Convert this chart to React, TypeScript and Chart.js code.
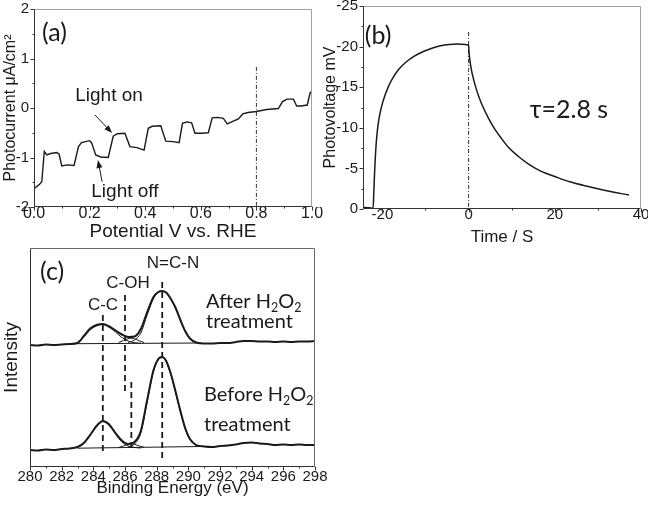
import { useEffect, useRef } from "react";
import { Chart, registerables } from "chart.js";
Chart.register(...registerables);

const ARIAL = "'Liberation Sans', Arial, sans-serif";
const CALIBRI = "Lato, 'Open Sans', sans-serif";
const INK = "#1a1a1a";

// ---------------- Panel (a): photocurrent vs potential ----------------
const potentialV = [0, 0.02, 0.028, 0.037, 0.046, 0.06, 0.082, 0.09, 0.1, 0.12, 0.144, 0.16, 0.171, 0.2, 0.207, 0.222, 0.24, 0.267, 0.285, 0.3, 0.327, 0.345, 0.37, 0.396, 0.411, 0.425, 0.456, 0.474, 0.5, 0.522, 0.534, 0.55, 0.567, 0.579, 0.6, 0.627, 0.641, 0.66, 0.681, 0.695, 0.715, 0.735, 0.751, 0.77, 0.8, 0.837, 0.879, 0.894, 0.91, 0.933, 0.945, 0.96, 0.983, 0.993, 1.0];
const photocurrent = [-1.63, -1.54, -1.49, -0.88, -0.95, -0.92, -0.9, -0.93, -1.17, -1.15, -1.16, -0.78, -0.7, -0.66, -0.7, -0.95, -0.99, -1.0, -0.57, -0.52, -0.51, -0.78, -0.8, -0.85, -0.41, -0.37, -0.36, -0.67, -0.68, -0.7, -0.31, -0.28, -0.3, -0.51, -0.51, -0.5, -0.2, -0.19, -0.21, -0.32, -0.27, -0.22, -0.12, -0.09, -0.07, -0.03, -0.01, 0.13, 0.18, 0.18, 0.04, 0.04, 0.06, 0.3, 0.35];
const aMarkerX = 0.8;
const aMarkerY = [0.83, -2];
const aXTicks = [0, 0.2, 0.4, 0.6, 0.8, 1.0];
const aXMinor = [0.1, 0.3, 0.5, 0.7, 0.9];
const aYTicks = [-2, -1, 0, 1, 2];
const aYMinor = [-1.5, -0.5, 0.5, 1.5];

// ---------------- Panel (b): photovoltage transient ----------------
const timeS = [-24.5, -23, -22.3, -22.15, -22.0, -21.8, -21.5, -21.2, -20.8, -20.2, -19.4, -18.5, -17.5, -16.2, -14.5, -12.5, -10.5, -8.5, -6.5, -4.5, -2.5, -0.8, -0.1, 0, 0.1, 0.3, 0.6, 1.0, 1.6, 2.4, 3.4, 4.6, 6.0, 7.6, 9.4, 11.5, 14, 17, 20, 23.5, 27.5, 32, 37.2];
const photovoltage = [-0.2, -0.15, -0.1, -0.1, -2.0, -4.6, -7.6, -9.5, -11.1, -12.6, -14.0, -15.2, -16.2, -17.2, -18.1, -18.85, -19.4, -19.8, -20.1, -20.27, -20.32, -20.27, -20.2, -20.15, -19.3, -18.3, -17.3, -16.3, -15.1, -13.8, -12.5, -11.2, -9.9, -8.7, -7.5, -6.5, -5.5, -4.6, -4.0, -3.35, -2.8, -2.25, -1.72];
const bMarkerX = 0;
const bMarkerY = [-21.8, 0];
const bXTicks = [-20, 0, 20, 40];
const bXMinor = [-10, 10, 30];
const bYTicks = [-25, -20, -15, -10, -5, 0];
const bYMinor = [-22.5, -17.5, -12.5, -7.5, -2.5];

// ---------------- Panel (c): C1s XPS ----------------
const energyEV = [280, 280.5, 281, 281.5, 282, 282.5, 283, 283.4, 283.8, 284.2, 284.6, 285, 285.4, 285.8, 286.2, 286.6, 287, 287.4, 287.8, 288.1, 288.35, 288.6, 288.9, 289.2, 289.5, 289.8, 290.1, 290.5, 291, 291.5, 292, 292.5, 293, 293.5, 294, 294.5, 295, 295.5, 296, 296.5, 297, 297.5, 298];
const afterRaw = [122, 121.5, 122.5, 122, 122.5, 123, 124, 131, 138.5, 142, 143, 140.5, 136.5, 132.5, 130, 130.5, 138, 155, 170, 175, 176, 174.5, 168, 159, 147, 136, 128.5, 124.5, 123.5, 123.5, 124, 124, 125, 126, 126, 125.5, 125.5, 125, 125.5, 125, 125.5, 125.5, 126];
const beforeRaw = [17, 16.5, 17.5, 17, 18, 18.5, 20, 24, 32, 41, 46, 42.5, 34, 26.5, 23, 25, 36, 67, 97, 108, 110, 106, 93, 75, 56, 39, 28, 22, 20.5, 20, 21, 21.5, 22.5, 24, 24.5, 23.5, 23, 22, 22.5, 22, 22.5, 22, 22];
const ccEnergy = [283, 283.4, 283.8, 284.2, 284.6, 285, 285.4, 285.8, 286.2, 286.6, 287];
const afterCC = [125, 130, 137, 141, 142.5, 140, 135, 129.5, 126, 124.3, 123.8];
const beforeCC = [19.5, 23.5, 31.5, 40.5, 45.5, 41.5, 33, 25, 21, 19.5, 19];
const cohEnergy = [285.6, 285.9, 286.2, 286.4, 286.6, 286.9, 287.2];
const afterCOH = [124.5, 126.5, 128.3, 128.7, 128.2, 126.3, 124.5];
const beforeCOH = [19.5, 21, 22.8, 23.3, 22.8, 21, 19.7];
const ncnEnergy = [286.2, 286.6, 287, 287.4, 287.8, 288.1, 288.35, 288.6, 288.9, 289.2, 289.5, 289.8, 290.1, 290.5, 290.8];
const afterNCN = [124.5, 127, 134, 152, 168.5, 174.5, 175.5, 174, 167.5, 158.5, 146.5, 135.5, 128, 124.5, 123.8];
const beforeNCN = [20, 23, 34, 65, 95.5, 107, 109.5, 105.5, 92, 74, 55, 38, 27.5, 21.5, 20.5];
const baselineEnergy = [283, 290.8];
const afterBaseline = [123.3, 124];
const beforeBaseline = [18.8, 20.5];
const guideEnergy = [284.6, 286.0, 286.4, 288.35];
const guideTop = [152, 172, 85, 185];
const guideBottom = [12, 75, 17, 7];
const cXTicks = [280, 282, 284, 286, 288, 290, 292, 294, 296, 298];
const cXMinor = [281, 283, 285, 287, 289, 291, 293, 295, 297];

// ---------------- helpers ----------------
type Seg = { t: string; sub?: boolean };
type Txt = { segs: Seg[]; x: number; y: number; size: number; family: string; align: "left" | "center" };
type Arrow = { from: [number, number]; to: [number, number] };
type Deco = { xMajor: number[]; xMinor: number[]; yMajor: number[]; yMinor: number[]; texts: Txt[]; arrows?: Arrow[]; clip?: boolean; frame?: string };

const pts = (xs: number[], ys: number[]) => xs.map((x, i) => ({ x, y: ys[i] }));

function drawRich(ctx: CanvasRenderingContext2D, t: Txt, x: number, y: number) {
  const parts = t.segs.map((s) => {
    const size = s.sub ? t.size * 0.62 : t.size;
    const font = `${size}px ${t.family}`;
    ctx.font = font;
    return { ...s, font, w: ctx.measureText(s.t).width };
  });
  const total = parts.reduce((a, p) => a + p.w, 0);
  let cx = t.align === "center" ? x - total / 2 : x;
  ctx.textAlign = "left";
  ctx.textBaseline = "middle";
  for (const p of parts) {
    ctx.font = p.font;
    ctx.fillText(p.t, cx, y + (p.sub ? t.size * 0.3 : 0));
    cx += p.w;
  }
}

function decoPlugin(d: Deco) {
  return {
    id: "deco",
    afterDatasetsDraw(chart: any) {
      const { ctx, chartArea: a, scales } = chart;
      const xs = scales.x, ys = scales.y;
      const L = Math.round(a.left) + 0.5, R = Math.round(a.right) - 0.5;
      const T = Math.round(a.top) + 0.5, B = Math.round(a.bottom) - 0.5;
      ctx.save();
      ctx.lineWidth = 1;
      ctx.strokeStyle = d.frame || "#a0a0a0";
      ctx.beginPath();
      ctx.moveTo(L, T); ctx.lineTo(R, T); ctx.lineTo(R, B);
      ctx.stroke();
      ctx.strokeStyle = "#333";
      ctx.beginPath();
      ctx.moveTo(L, T); ctx.lineTo(L, B); ctx.lineTo(R, B);
      const tx = (v: number, len: number) => { const p = Math.round(xs.getPixelForValue(v)) + 0.5; ctx.moveTo(p, B); ctx.lineTo(p, B + len); };
      const ty = (v: number, len: number) => { const p = Math.round(ys.getPixelForValue(v)) + 0.5; ctx.moveTo(L, p); ctx.lineTo(L - len, p); };
      d.xMajor.forEach((v) => tx(v, 4));
      d.xMinor.forEach((v) => tx(v, 2));
      d.yMajor.forEach((v) => ty(v, 4));
      d.yMinor.forEach((v) => ty(v, 2));
      ctx.stroke();
      if (d.clip) {
        ctx.beginPath();
        ctx.rect(a.left, a.top, a.right - a.left, a.bottom - a.top);
        ctx.clip();
      }
      ctx.fillStyle = INK;
      for (const t of d.texts) drawRich(ctx, t, xs.getPixelForValue(t.x), ys.getPixelForValue(t.y));
      for (const ar of d.arrows || []) {
        const x1 = xs.getPixelForValue(ar.from[0]), y1 = ys.getPixelForValue(ar.from[1]);
        const x2 = xs.getPixelForValue(ar.to[0]), y2 = ys.getPixelForValue(ar.to[1]);
        const ang = Math.atan2(y2 - y1, x2 - x1);
        ctx.strokeStyle = INK;
        ctx.lineWidth = 1;
        ctx.beginPath();
        ctx.moveTo(x1, y1);
        ctx.lineTo(x2 - 5 * Math.cos(ang), y2 - 5 * Math.sin(ang));
        ctx.stroke();
        ctx.beginPath();
        ctx.moveTo(x2, y2);
        ctx.lineTo(x2 - 8 * Math.cos(ang) + 3 * Math.sin(ang), y2 - 8 * Math.sin(ang) - 3 * Math.cos(ang));
        ctx.lineTo(x2 - 8 * Math.cos(ang) - 3 * Math.sin(ang), y2 - 8 * Math.sin(ang) + 3 * Math.cos(ang));
        ctx.closePath();
        ctx.fill();
      }
      ctx.restore();
    },
  };
}

function axis(o: {
  min: number; max: number; ticks: number[]; fixed: number; horizontal: boolean; reverse?: boolean;
  label?: (v: number) => string; tickSize?: number; tickPad?: number; showTicks?: boolean;
  title: string; titleSize: number; titlePad: number;
}) {
  return {
    type: "linear",
    min: o.min,
    max: o.max,
    reverse: !!o.reverse,
    grid: { display: false, drawTicks: false, tickLength: 0 },
    border: { display: false },
    afterBuildTicks: (s: any) => { s.ticks = o.ticks.map((value) => ({ value })); },
    afterFit: (s: any) => {
      if (o.horizontal) s.height = o.fixed; else s.width = o.fixed;
      s.paddingLeft = 0; s.paddingRight = 0; s.paddingTop = 0; s.paddingBottom = 0;
    },
    ticks: {
      display: o.showTicks !== false,
      autoSkip: false,
      maxRotation: 0,
      padding: o.tickPad ?? 0,
      color: INK,
      font: { family: ARIAL, size: o.tickSize ?? 14, lineHeight: 1.2 },
      callback: (v: any) => (o.label ? o.label(Number(v)) : String(v)),
    },
    title: {
      display: true,
      text: o.title,
      color: INK,
      font: { family: ARIAL, size: o.titleSize, lineHeight: 1.2 },
      padding: o.horizontal ? { top: 0, bottom: o.titlePad } : { top: o.titlePad, bottom: 0 },
    },
  };
}

const baseOpts = (padding: any) => ({
  responsive: false,
  maintainAspectRatio: false,
  animation: false,
  events: [],
  layout: { padding },
  plugins: { legend: { display: false }, tooltip: { enabled: false } },
  elements: { point: { radius: 0 }, line: { fill: false } },
});

function configA() {
  return {
    type: "line",
    data: {
      datasets: [
        { data: pts(potentialV, photocurrent), borderColor: INK, borderWidth: 1.4, tension: 0 },
        { data: pts([aMarkerX, aMarkerX], aMarkerY), borderColor: "#333", borderWidth: 1, borderDash: [4, 2, 1, 2] },
      ],
    },
    options: {
      ...baseOpts({ top: 9, right: 12, left: 0, bottom: 0 }),
      scales: {
        x: axis({ min: 0, max: 1, ticks: aXTicks, fixed: 43, horizontal: true, label: (v) => v.toFixed(1), tickSize: 16, tickPad: -3, title: "Potential V vs. RHE", titleSize: 19, titlePad: 6.5 }),
        y: axis({ min: -2, max: 2, ticks: aYTicks, fixed: 34, horizontal: false, tickSize: 15, tickPad: 5, title: "Photocurrent μA/cm²", titleSize: 16, titlePad: 0.5 }),
      },
    },
    plugins: [decoPlugin({
      xMajor: aXTicks, xMinor: aXMinor, yMajor: aYTicks, yMinor: aYMinor,
      texts: [
        { segs: [{ t: "(a)" }], x: 0.029, y: 1.52, size: 25, family: CALIBRI, align: "left" },
        { segs: [{ t: "Light on" }], x: 0.27, y: 0.25, size: 19, family: ARIAL, align: "center" },
        { segs: [{ t: "Light off" }], x: 0.327, y: -1.7, size: 19, family: ARIAL, align: "center" },
      ],
      arrows: [
        { from: [0.219, -0.14], to: [0.281, -0.505] },
        { from: [0.245, -1.49], to: [0.23, -1.05] },
      ],
    })],
  };
}

function configB() {
  return {
    type: "line",
    data: {
      datasets: [
        { data: pts(timeS, photovoltage), borderColor: INK, borderWidth: 1.5, cubicInterpolationMode: "monotone" },
        { data: pts([bMarkerX, bMarkerX], bMarkerY), borderColor: "#333", borderWidth: 1, borderDash: [4, 2, 1, 2] },
      ],
    },
    options: {
      ...baseOpts({ top: 6, right: 7, left: 0, bottom: 0 }),
      scales: {
        x: axis({ min: -24.5, max: 40, ticks: bXTicks, fixed: 41, horizontal: true, tickSize: 15, tickPad: -3, title: "Time / S", titleSize: 17, titlePad: 2.8 }),
        y: axis({ min: -25, max: 0, reverse: true, ticks: bYTicks, fixed: 45, horizontal: false, tickSize: 15, tickPad: 5, title: "Photovoltage mV", titleSize: 16, titlePad: 3.4 }),
      },
    },
    plugins: [decoPlugin({
      xMajor: bXTicks, xMinor: bXMinor, yMajor: bYTicks, yMinor: bYMinor,
      texts: [
        { segs: [{ t: "(b)" }], x: -24.07, y: -21.3, size: 25, family: CALIBRI, align: "left" },
        { segs: [{ t: "τ=2.8 s" }], x: 14.2, y: -12.2, size: 25, family: CALIBRI, align: "left" },
      ],
    })],
  };
}

function configC() {
  const thin = { borderColor: INK, borderWidth: 1, cubicInterpolationMode: "monotone" };
  const thick = { borderColor: INK, borderWidth: 2, cubicInterpolationMode: "monotone" };
  const guides = guideEnergy.map((e, i) => ({
    data: pts([e, e], [guideTop[i], guideBottom[i]]),
    borderColor: INK, borderWidth: 1.8, borderDash: [6, 4],
  }));
  return {
    type: "line",
    data: {
      datasets: [
        { ...thin, data: pts(baselineEnergy, afterBaseline) },
        { ...thin, data: pts(ccEnergy, afterCC) },
        { ...thin, data: pts(cohEnergy, afterCOH) },
        { ...thin, data: pts(ncnEnergy, afterNCN) },
        { ...thick, data: pts(energyEV, afterRaw) },
        { ...thin, data: pts(baselineEnergy, beforeBaseline) },
        { ...thin, data: pts(ccEnergy, beforeCC) },
        { ...thin, data: pts(cohEnergy, beforeCOH) },
        { ...thin, data: pts(ncnEnergy, beforeNCN) },
        { ...thick, data: pts(energyEV, beforeRaw) },
        ...guides,
      ],
    },
    options: {
      ...baseOpts({ top: 8, right: 85, left: 0, bottom: 0 }),
      scales: {
        x: axis({ min: 280, max: 298, ticks: cXTicks, fixed: 38, horizontal: true, tickSize: 15, tickPad: 0.5, title: "Binding Energy (eV)", titleSize: 17, titlePad: 6.5 }),
        y: axis({ min: 0, max: 219, ticks: [], fixed: 30, horizontal: false, showTicks: false, title: "Intensity", titleSize: 19, titlePad: 0.5 }),
      },
    },
    plugins: [decoPlugin({
      xMajor: cXTicks, xMinor: cXMinor, yMajor: [], yMinor: [], clip: true, frame: "#6a6a6a",
      texts: [
        { segs: [{ t: "(c)" }], x: 280.63, y: 195, size: 25, family: CALIBRI, align: "left" },
        { segs: [{ t: "C-C" }], x: 284.61, y: 162, size: 17, family: ARIAL, align: "center" },
        { segs: [{ t: "C-OH" }], x: 286.19, y: 184, size: 17, family: ARIAL, align: "center" },
        { segs: [{ t: "N=C-N" }], x: 289.03, y: 204, size: 17, family: ARIAL, align: "center" },
        { segs: [{ t: "After H" }, { t: "2", sub: true }, { t: "O" }, { t: "2", sub: true }], x: 291.12, y: 165, size: 20, family: CALIBRI, align: "left" },
        { segs: [{ t: "treatment" }], x: 291.12, y: 145, size: 20, family: CALIBRI, align: "left" },
        { segs: [{ t: "Before H" }, { t: "2", sub: true }, { t: "O" }, { t: "2", sub: true }], x: 290.99, y: 72, size: 20, family: CALIBRI, align: "left" },
        { segs: [{ t: "treatment" }], x: 290.99, y: 42, size: 20, family: CALIBRI, align: "left" },
      ],
    })],
  };
}

function Panel({ make, left, top, width, height }: { make: () => any; left: number; top: number; width: number; height: number }) {
  const ref = useRef<HTMLCanvasElement>(null);
  useEffect(() => {
    const chart = new Chart(ref.current as HTMLCanvasElement, make());
    return () => chart.destroy();
  }, []);
  return (
    <canvas
      ref={ref}
      width={width}
      height={height}
      style={{ position: "absolute", left, top, width, height }}
    />
  );
}

export default function App() {
  return (
    <div style={{ position: "fixed", left: 0, top: 0, width: 648, height: 505, background: "#fff", overflow: "hidden" }}>
      <Panel make={configA} left={0} top={0} width={324} height={250} />
      <Panel make={configB} left={318} top={0} width={330} height={250} />
      <Panel make={configC} left={0} top={240} width={400} height={265} />
    </div>
  );
}
